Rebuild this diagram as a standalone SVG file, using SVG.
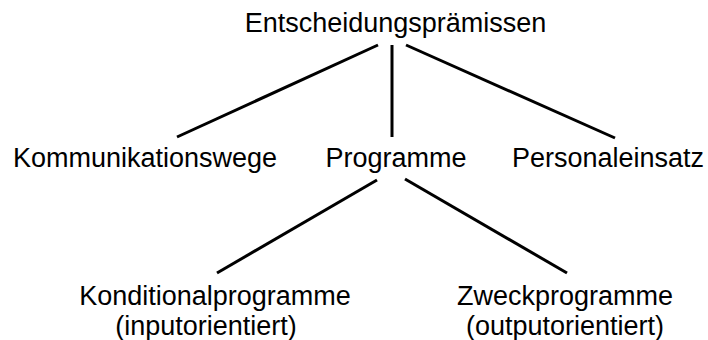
<svg xmlns="http://www.w3.org/2000/svg" width="708" height="340" viewBox="0 0 708 340">
<style>
text{font-family:"Liberation Sans",Arial,sans-serif;font-size:27px;fill:#000;text-anchor:middle}
.c line{stroke:#000;stroke-width:3;stroke-linecap:butt}
</style>
<rect width="708" height="340" fill="#fff"/>
<g class="c" id="connectors">
<line x1="378" y1="45" x2="177" y2="137"/>
<line x1="392" y1="45" x2="392" y2="137"/>
<line x1="406" y1="45" x2="615" y2="138"/>
<line x1="377" y1="180" x2="217" y2="273"/>
<line x1="405" y1="179" x2="567" y2="273"/>
</g>
<g id="entscheidungspraemissen"><text x="395.5" y="32">Entscheidungsprämissen</text></g>
<g id="kommunikationswege"><text x="145" y="167">Kommunikationswege</text></g>
<g id="programme"><text x="396" y="167">Programme</text></g>
<g id="personaleinsatz"><text x="608" y="167">Personaleinsatz</text></g>
<g id="konditionalprogramme"><text x="215" y="305">Konditionalprogramme</text><text x="206" y="335">(inputorientiert)</text></g>
<g id="zweckprogramme"><text x="565" y="305">Zweckprogramme</text><text x="565" y="335">(outputorientiert)</text></g>
</svg>
